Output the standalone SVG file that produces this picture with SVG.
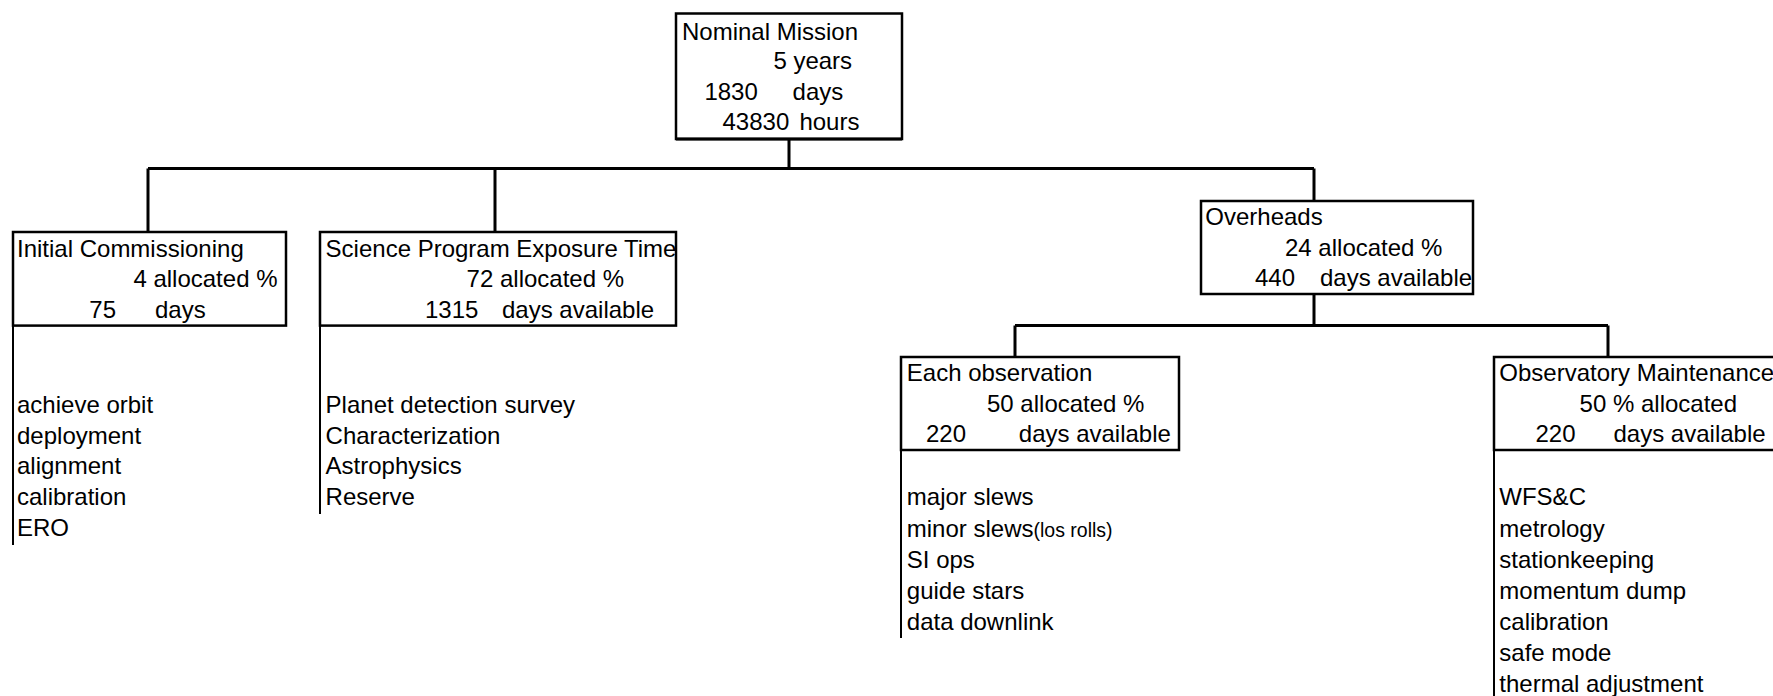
<svg xmlns="http://www.w3.org/2000/svg" width="1773" height="696" viewBox="0 0 1773 696">
<style>
text{font-family:"Liberation Sans",Arial,sans-serif;font-size:24px;fill:#000}
.small{font-size:19.5px}
.box{fill:none;stroke:#000;stroke-width:2.5}
.edge{stroke:#000;stroke-width:3;fill:none}
.bar{stroke:#000;stroke-width:2;fill:none}
</style>
<rect width="1773" height="696" fill="#fff"/>
<g id="connectors">
<path class="edge" d="M789 139V168.5M148 168.5H1314M148 168.5V232M495 168.5V232M1314 168.5V201M1314 294V325.6M1015 325.6H1608M1015 325.6V357M1608 325.6V357"/>
</g>
<g id="nominal">
<rect class="box" x="676" y="13.5" width="226" height="125.5"/>
<path class="edge" d="M676 139H902"/>
<text x="682" y="39.6">Nominal Mission</text>
<text x="773.4" y="69">5 years</text>
<text x="704.4" y="99.5">1830</text><text x="792.6" y="99.5">days</text>
<text x="722.5" y="130">43830</text><text x="799.4" y="130">hours</text>
</g>
<g id="initial">
<rect class="box" x="13" y="232" width="273" height="93.6"/>
<path class="bar" d="M13 325.6V545"/>
<text x="17" y="256.7">Initial Commissioning</text>
<text x="133.4" y="287.2">4 allocated %</text>
<text x="89.3" y="317.7">75</text><text x="155" y="317.7">days</text>
<text x="17" y="412.7">achieve orbit</text>
<text x="17" y="443.5">deployment</text>
<text x="17" y="474.3">alignment</text>
<text x="17" y="505.1">calibration</text>
<text x="17" y="536">ERO</text>
</g>
<g id="science">
<rect class="box" x="320" y="232" width="356" height="93.6"/>
<path class="bar" d="M320 325.6V514"/>
<text x="325.6" y="256.7">Science Program Exposure Time</text>
<text x="466.6" y="287.2">72 allocated %</text>
<text x="425" y="317.7">1315</text><text x="502" y="317.7">days available</text>
<text x="325.6" y="412.7">Planet detection survey</text>
<text x="325.6" y="443.5">Characterization</text>
<text x="325.6" y="474.3">Astrophysics</text>
<text x="325.6" y="505.1">Reserve</text>
</g>
<g id="overheads">
<rect class="box" x="1201" y="201" width="272" height="93"/>
<text x="1205.3" y="225">Overheads</text>
<text x="1285" y="255.5">24 allocated %</text>
<text x="1255" y="286">440</text><text x="1320" y="286">days available</text>
</g>
<g id="each-observation">
<rect class="box" x="901" y="357" width="278" height="93"/>
<path class="bar" d="M901 450V638"/>
<text x="906.8" y="381">Each observation</text>
<text x="987" y="411.5">50 allocated %</text>
<text x="926" y="442">220</text><text x="1018.8" y="442">days available</text>
<text x="906.8" y="505.4">major slews</text>
<text x="906.8" y="536.5">minor slews<tspan class="small">(los rolls)</tspan></text>
<text x="906.8" y="567.6">SI ops</text>
<text x="906.8" y="598.7">guide stars</text>
<text x="906.8" y="629.8">data downlink</text>
</g>
<g id="maintenance">
<rect class="box" x="1494" y="357" width="285" height="93"/>
<path class="bar" d="M1494 450V696"/>
<text x="1499.3" y="381">Observatory Maintenance</text>
<text x="1579.6" y="411.5">50 % allocated</text>
<text x="1535.5" y="442">220</text><text x="1613.5" y="442">days available</text>
<text x="1499.3" y="505.4">WFS&amp;C</text>
<text x="1499.3" y="536.5">metrology</text>
<text x="1499.3" y="567.6">stationkeeping</text>
<text x="1499.3" y="598.7">momentum dump</text>
<text x="1499.3" y="629.8">calibration</text>
<text x="1499.3" y="660.9">safe mode</text>
<text x="1499.3" y="692">thermal adjustment</text>
</g>
</svg>
